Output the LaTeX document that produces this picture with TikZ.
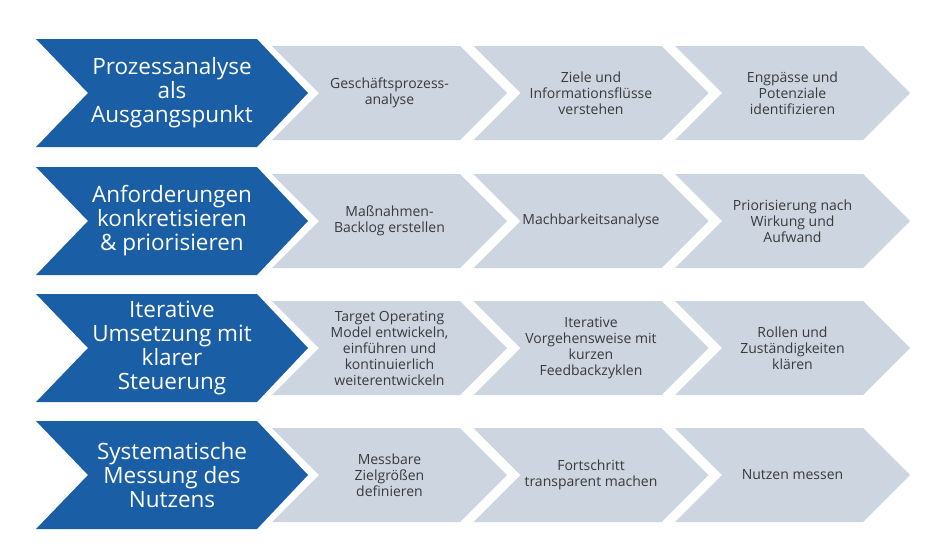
\documentclass[tikz,border=0pt]{standalone}
\usepackage{fontspec}
\setmainfont{Open Sans}
\definecolor{procblue}{HTML}{1A5EA6}
\definecolor{stepgrey}{HTML}{CDD5E1}
\definecolor{stepink}{HTML}{3A3A3A}

\begin{document}
\begin{tikzpicture}[x=1pt,y=-1pt,
                    headtext/.style={text=white,align=center,font=\fontsize{22.5}{24}\selectfont},
                    steptext/.style={text=stepink,align=center,font=\fontsize{14}{16}\selectfont}]

\useasboundingbox (0,0) rectangle (944,558);

%%%% blue chevrons
\foreach \c in {93,221,348,475}
  \fill[procblue] (36,\c-54) -- (257,\c-54) -- (308,\c) -- (257,\c+54) -- (36,\c+54) -- (88,\c) -- cycle;

%%%% grey chevrons
\foreach \c in {93,221,348,475}
  \foreach \x in {272,473.5,675}
    \fill[stepgrey] (\x,\c-47) -- (\x+188,\c-47) -- (\x+235,\c) -- (\x+188,\c+47) -- (\x,\c+47) -- (\x+47,\c) -- cycle;


%%%% row 1
\node[headtext] (pa) at (172,93) {Prozessanalyse\\als\\Ausgangspunkt};
\node[steptext] (pa1) at (389.5,93) {Geschäftsprozess-\\analyse};
\node[steptext] (pa2) at (591,93) {Ziele und\\Informationsflüsse\\verstehen};
\node[steptext] (pa3) at (792.5,93) {Engpässe und\\Potenziale\\identifizieren};

%%%% row 2
\node[headtext] (af) at (172,221) {Anforderungen\\konkretisieren\\\& priorisieren};
\node[steptext] (af1) at (389.5,221) {Maßnahmen-\\Backlog erstellen};
\node[steptext] (af2) at (591,221) {Machbarkeitsanalyse};
\node[steptext] (af3) at (792.5,221) {Priorisierung nach\\Wirkung und\\Aufwand};

%%%% row 3
\node[headtext] (it) at (172,348) {Iterative\\Umsetzung mit\\klarer\\Steuerung};
\node[steptext] (it1) at (389.5,348) {Target Operating\\Model entwickeln,\\einführen und\\kontinuierlich\\weiterentwickeln};
\node[steptext] (it2) at (591,348) {Iterative\\Vorgehensweise mit\\kurzen\\Feedbackzyklen};
\node[steptext] (it3) at (792.5,348) {Rollen und\\Zuständigkeiten\\klären};

%%%% row 4
\node[headtext] (sm) at (172,475) {Systematische\\Messung des\\Nutzens};
\node[steptext] (sm1) at (389.5,475) {Messbare\\Zielgrößen\\definieren};
\node[steptext] (sm2) at (591,475) {Fortschritt\\transparent machen};
\node[steptext] (sm3) at (792.5,475) {Nutzen messen};

\end{tikzpicture}
\end{document}
